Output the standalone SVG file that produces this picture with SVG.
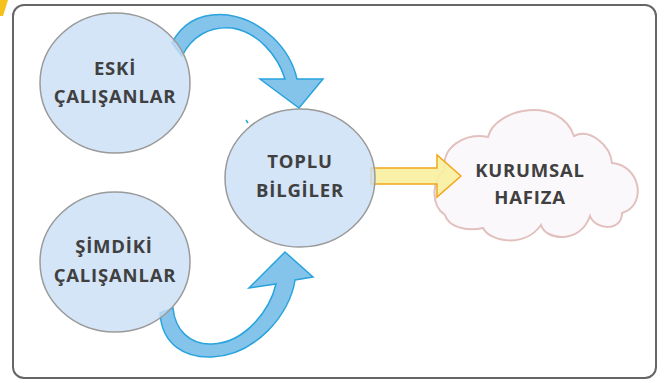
<svg xmlns="http://www.w3.org/2000/svg" width="665" height="383" viewBox="0 0 665 383">
<style>
.node{fill:#c9dff5;fill-opacity:0.8;stroke:#9a9a9a;stroke-width:1.5}
.lbl{font-family:"Open Sans","Liberation Sans",sans-serif;font-weight:700;font-size:18.5px;fill:#404040;text-anchor:middle;letter-spacing:0.8px}
.blue{fill:#85c4ea;stroke:#29a3dd;stroke-width:1.5;stroke-linejoin:miter}
</style>
<rect width="665" height="383" fill="#ffffff"/>
<polygon points="0,0 8,0 3,16 0,16" fill="#f5c21b"/>
<rect x="13" y="5" width="643" height="373" rx="11" fill="#ffffff" stroke="#666666" stroke-width="2"/>
<g id="kurumsal">
<path d="M 445,215 C 430,205 432,178 445,170 C 440,148 465,132 488,137 C 495,108 560,95 574,136 C 590,128 610,145 612,163 C 640,165 648,205 622,213 C 622,232 595,230 590,216 C 580,245 545,240 541,225 C 525,248 490,242 483,228 C 465,232 448,226 445,215 Z" fill="#fbf8fc" stroke="#e2c0be" stroke-width="2"/>
<text class="lbl" x="530" y="177">KURUMSAL</text>
<text class="lbl" x="530" y="204">HAFIZA</text>
</g>
<g id="connectors">
<path class="blue" d="M 172,43 C 185,18 207,13 228,15 C 262,20 290,48 297,79 L 323,79 L 299,108 L 260,79 L 285,79 C 278,56 258,32 232,28 C 210,26 192,36 182,56 Z"/>
<path class="blue" d="M 160,313 C 162,345 185,358 212,357 C 255,355 290,315 295,280 L 313,277 L 285,252 L 249,288 L 276,284 C 270,310 245,343 212,344 C 190,345 175,330 173,308 Z"/>
<path d="M 371,168 L 437,168 L 437,155 L 461,176 L 437,197 L 437,184 L 371,184 Z" fill="#f8ef9f" fill-opacity="0.9" stroke="#f4a61c" stroke-width="1.5"/>
<path d="M 246,120 L 248,123" stroke="#29a3dd" stroke-width="1.5"/>
</g>
<g id="eski">
<ellipse class="node" cx="115" cy="83" rx="75" ry="70"/>
<text class="lbl" x="115" y="75">ESKİ</text>
<text class="lbl" x="115" y="103">ÇALIŞANLAR</text>
</g>
<g id="simdiki">
<ellipse class="node" cx="115" cy="262" rx="75" ry="70"/>
<text class="lbl" x="114" y="253">ŞİMDİKİ</text>
<text class="lbl" x="115" y="282">ÇALIŞANLAR</text>
</g>
<g id="toplu">
<ellipse class="node" cx="300" cy="178" rx="75" ry="69"/>
<text class="lbl" x="300" y="168">TOPLU</text>
<text class="lbl" x="300" y="197">BİLGİLER</text>
</g>
</svg>
